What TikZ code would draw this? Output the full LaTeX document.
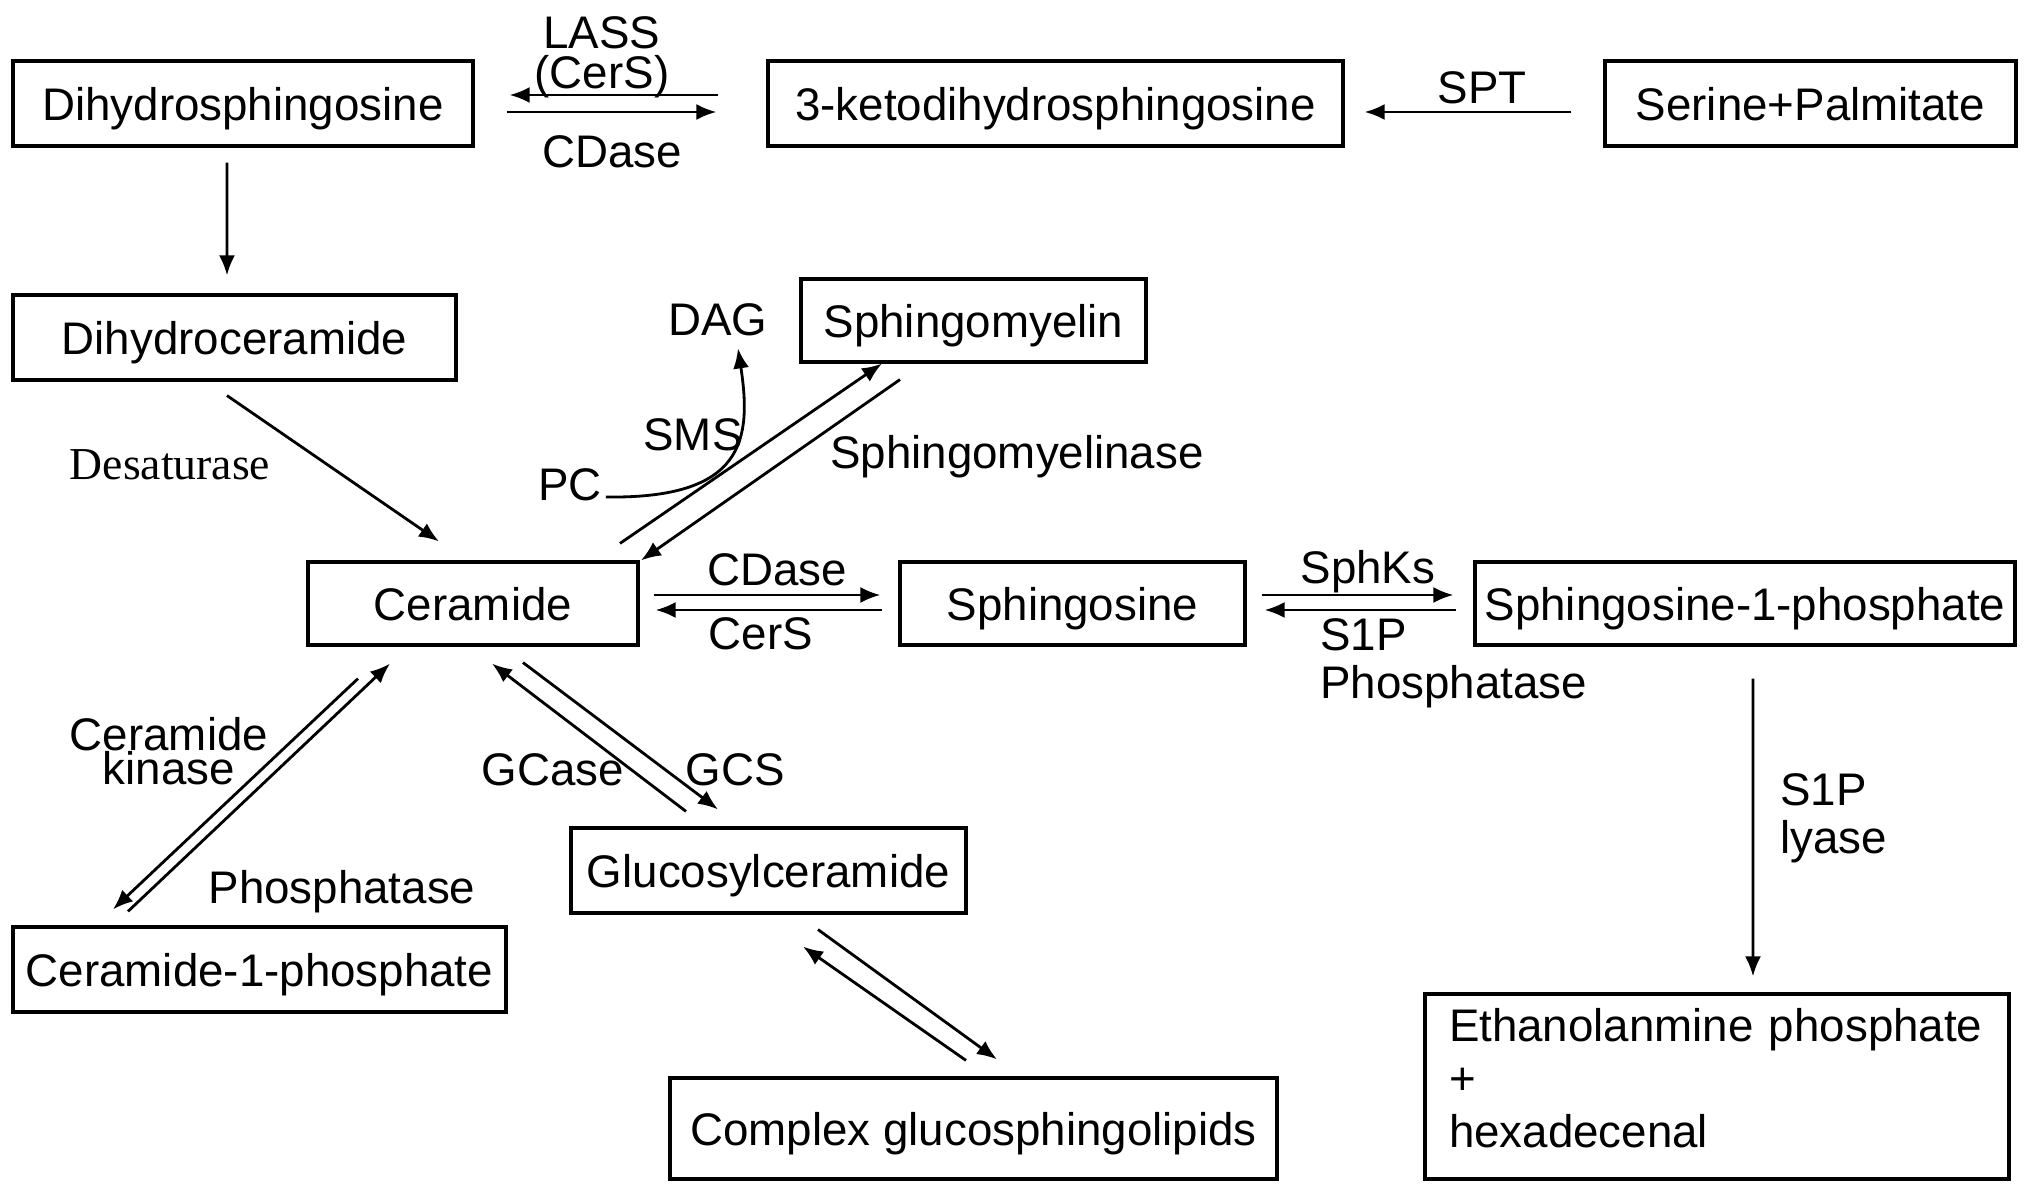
\documentclass[tikz,border=0pt]{standalone}
\usepackage{fontspec}
\setmainfont{Liberation Sans}
\newfontfamily\timesfont{Liberation Serif}
\usetikzlibrary{arrows.meta}

\begin{document}
\begin{tikzpicture}[
    compound/.style ={draw, line width=0.9pt, inner sep=0pt, text height=9.4pt, text depth=0pt, font=\fontsize{13}{15}\selectfont},
    enzyme/.style ={inner sep=1pt, font=\fontsize{13}{15}\selectfont},
    reaction/.style ={line width=0.8pt, -{Latex[length=2mm, width=1.6mm]}}]
   \useasboundingbox (0,0) rectangle (20.31,-11.93);
   % compounds
   \node[compound, minimum width=4.60cm, minimum height=0.85cm] (dhs) at (2.43,-1.035) {Dihydrosphingosine};
   \node[compound, minimum width=5.75cm, minimum height=0.85cm] (keto) at (10.555,-1.035) {3-ketodihydrosphingosine};
   \node[compound, minimum width=4.11cm, minimum height=0.85cm] (ser) at (18.105,-1.035) {Serine+Palmitate};
   \node[compound, minimum width=4.43cm, minimum height=0.85cm] (dhc) at (2.345,-3.375) {Dihydroceramide};
   \node[compound, minimum width=3.45cm, minimum height=0.83cm] (sm) at (9.735,-3.205) {Sphingomyelin};
   \node[compound, minimum width=3.30cm, minimum height=0.83cm] (cer) at (4.73,-6.035) {Ceramide};
   \node[compound, minimum width=3.45cm, minimum height=0.83cm] (sph) at (10.725,-6.035) {Sphingosine};
   \node[compound, minimum width=5.40cm, minimum height=0.83cm] (sip) at (17.45,-6.035) {Sphingosine-1-phosphate};
   \node[compound, minimum width=3.95cm, minimum height=0.85cm] (gluc) at (7.685,-8.705) {Glucosylceramide};
   \node[compound, minimum width=4.93cm, minimum height=0.85cm] (cip) at (2.595,-9.695) {Ceramide-1-phosphate};
   \node[compound, minimum width=6.07cm, minimum height=1.01cm] (cgsl) at (9.735,-11.285) {Complex glucosphingolipids};
   \node[compound, minimum width=5.84cm, minimum height=1.85cm, text width=5.36cm, text height=9.6pt, text depth=35pt, align=left] (eth) at (17.17,-10.865) {Ethanolanmine phosphate\\+\\hexadecenal};
   % enzymes
   \node[enzyme, align=center, font=\fontsize{13}{11.5}\selectfont] (lass) at (6.02,-0.57) {LASS\\(CerS)};
   \node[enzyme] (cdase1) at (6.12,-1.52) {CDase};
   \node[enzyme] (spt) at (14.82,-0.88) {SPT};
   \node[enzyme] (dag) at (7.18,-3.20) {DAG};
   \node[enzyme, font=\timesfont\fontsize{13}{15}\selectfont] (desat) at (1.70,-4.65) {Desaturase};
   \node[enzyme] (sms) at (6.93,-4.35) {SMS};
   \node[enzyme] (pc) at (5.70,-4.85) {PC};
   \node[enzyme] (smase) at (10.17,-4.57) {Sphingomyelinase};
   \node[enzyme] (cdase2) at (7.77,-5.70) {CDase};
   \node[enzyme] (cers) at (7.61,-6.34) {CerS};
   \node[enzyme] (sphk) at (13.68,-5.72) {SphKs};
   \node[enzyme, anchor=west, align=left, font=\fontsize{13}{13.7}\selectfont] (sipp) at (13.16,-6.63) {S1P\\Phosphatase};
   \node[enzyme, align=center, font=\fontsize{13}{9.7}\selectfont] (cerk) at (1.69,-7.51) {Ceramide\\kinase};
   \node[enzyme] (phos) at (3.42,-8.92) {Phosphatase};
   \node[enzyme] (gcase) at (5.53,-7.70) {GCase};
   \node[enzyme] (gcs) at (7.35,-7.70) {GCS};
   \node[enzyme, anchor=west, align=left, font=\fontsize{13}{13.7}\selectfont] (lyase) at (17.76,-8.18) {S1P\\lyase};
   % reactions
   \draw[reaction, shorten <=4.8mm, shorten >=3.5mm] ([yshift=0.085cm]keto.west) to ([yshift=0.085cm]dhs.east);
   \draw[reaction, shorten <=3.2mm, shorten >=5.0mm] ([yshift=-0.085cm]dhs.east) to ([yshift=-0.085cm]keto.west);
   \draw[reaction, shorten <=3.2mm, shorten >=2.0mm] ([yshift=-0.085cm]ser.west) to ([yshift=-0.085cm]keto.east);
   \draw[reaction, shorten <=1.5mm, shorten >=1.8mm] ([xshift=-0.16cm]dhs.south) to ([xshift=-0.075cm]dhc.north);
   \draw[reaction] ([shift={(-0.075,-0.14)}]dhc.south) to ([shift={(-0.34,0.19)}]cer.north);
   \draw[reaction] ([yshift=-0.12cm]pc.east) .. controls ([shift={(1.38,-0.14)}]pc.east) and ([shift={(0.34,-1.0)}]dag.south) .. ([shift={(0.2,-0.08)}]dag.south);
   \draw[reaction] ([shift={(1.47,0.17)}]cer.north) to ([xshift=-0.915cm]sm.south);
   \draw[reaction] ([shift={(-0.735,-0.16)}]sm.south) to ([xshift=1.68cm]cer.north);
   \draw[reaction, shorten <=1.4mm, shorten >=1.8mm] ([yshift=0.085cm]cer.east) to ([yshift=0.085cm]sph.west);
   \draw[reaction, shorten <=1.6mm, shorten >=1.6mm] ([yshift=-0.065cm]sph.west) to ([yshift=-0.065cm]cer.east);
   \draw[reaction, shorten <=1.5mm, shorten >=2.0mm] ([yshift=0.085cm]sph.east) to ([yshift=0.085cm]sip.west);
   \draw[reaction, shorten <=1.7mm, shorten >=1.8mm] ([yshift=-0.065cm]sip.west) to ([yshift=-0.065cm]sph.east);
   \draw[reaction, shorten <=3.2mm, shorten >=1.6mm] ([xshift=0.08cm]sip.south) to ([xshift=0.36cm]eth.north);
   \draw[reaction] ([shift={(-1.315,0.14)}]cip.north) to ([shift={(-0.83,-0.17)}]cer.south);
   \draw[reaction] ([shift={(-1.15,-0.32)}]cer.south) to ([shift={(-1.465,0.16)}]cip.north);
   \draw[reaction] ([shift={(-0.825,0.15)}]gluc.north) to ([shift={(0.19,-0.17)}]cer.south);
   \draw[reaction] ([shift={(0.5,-0.16)}]cer.south) to ([shift={(-0.505,0.17)}]gluc.north);
   \draw[reaction] ([shift={(-0.075,0.16)}]cgsl.north) to ([shift={(0.345,-0.32)}]gluc.south);
   \draw[reaction] ([shift={(0.495,-0.15)}]gluc.south) to ([shift={(0.235,0.17)}]cgsl.north);
\end{tikzpicture}
\end{document}
